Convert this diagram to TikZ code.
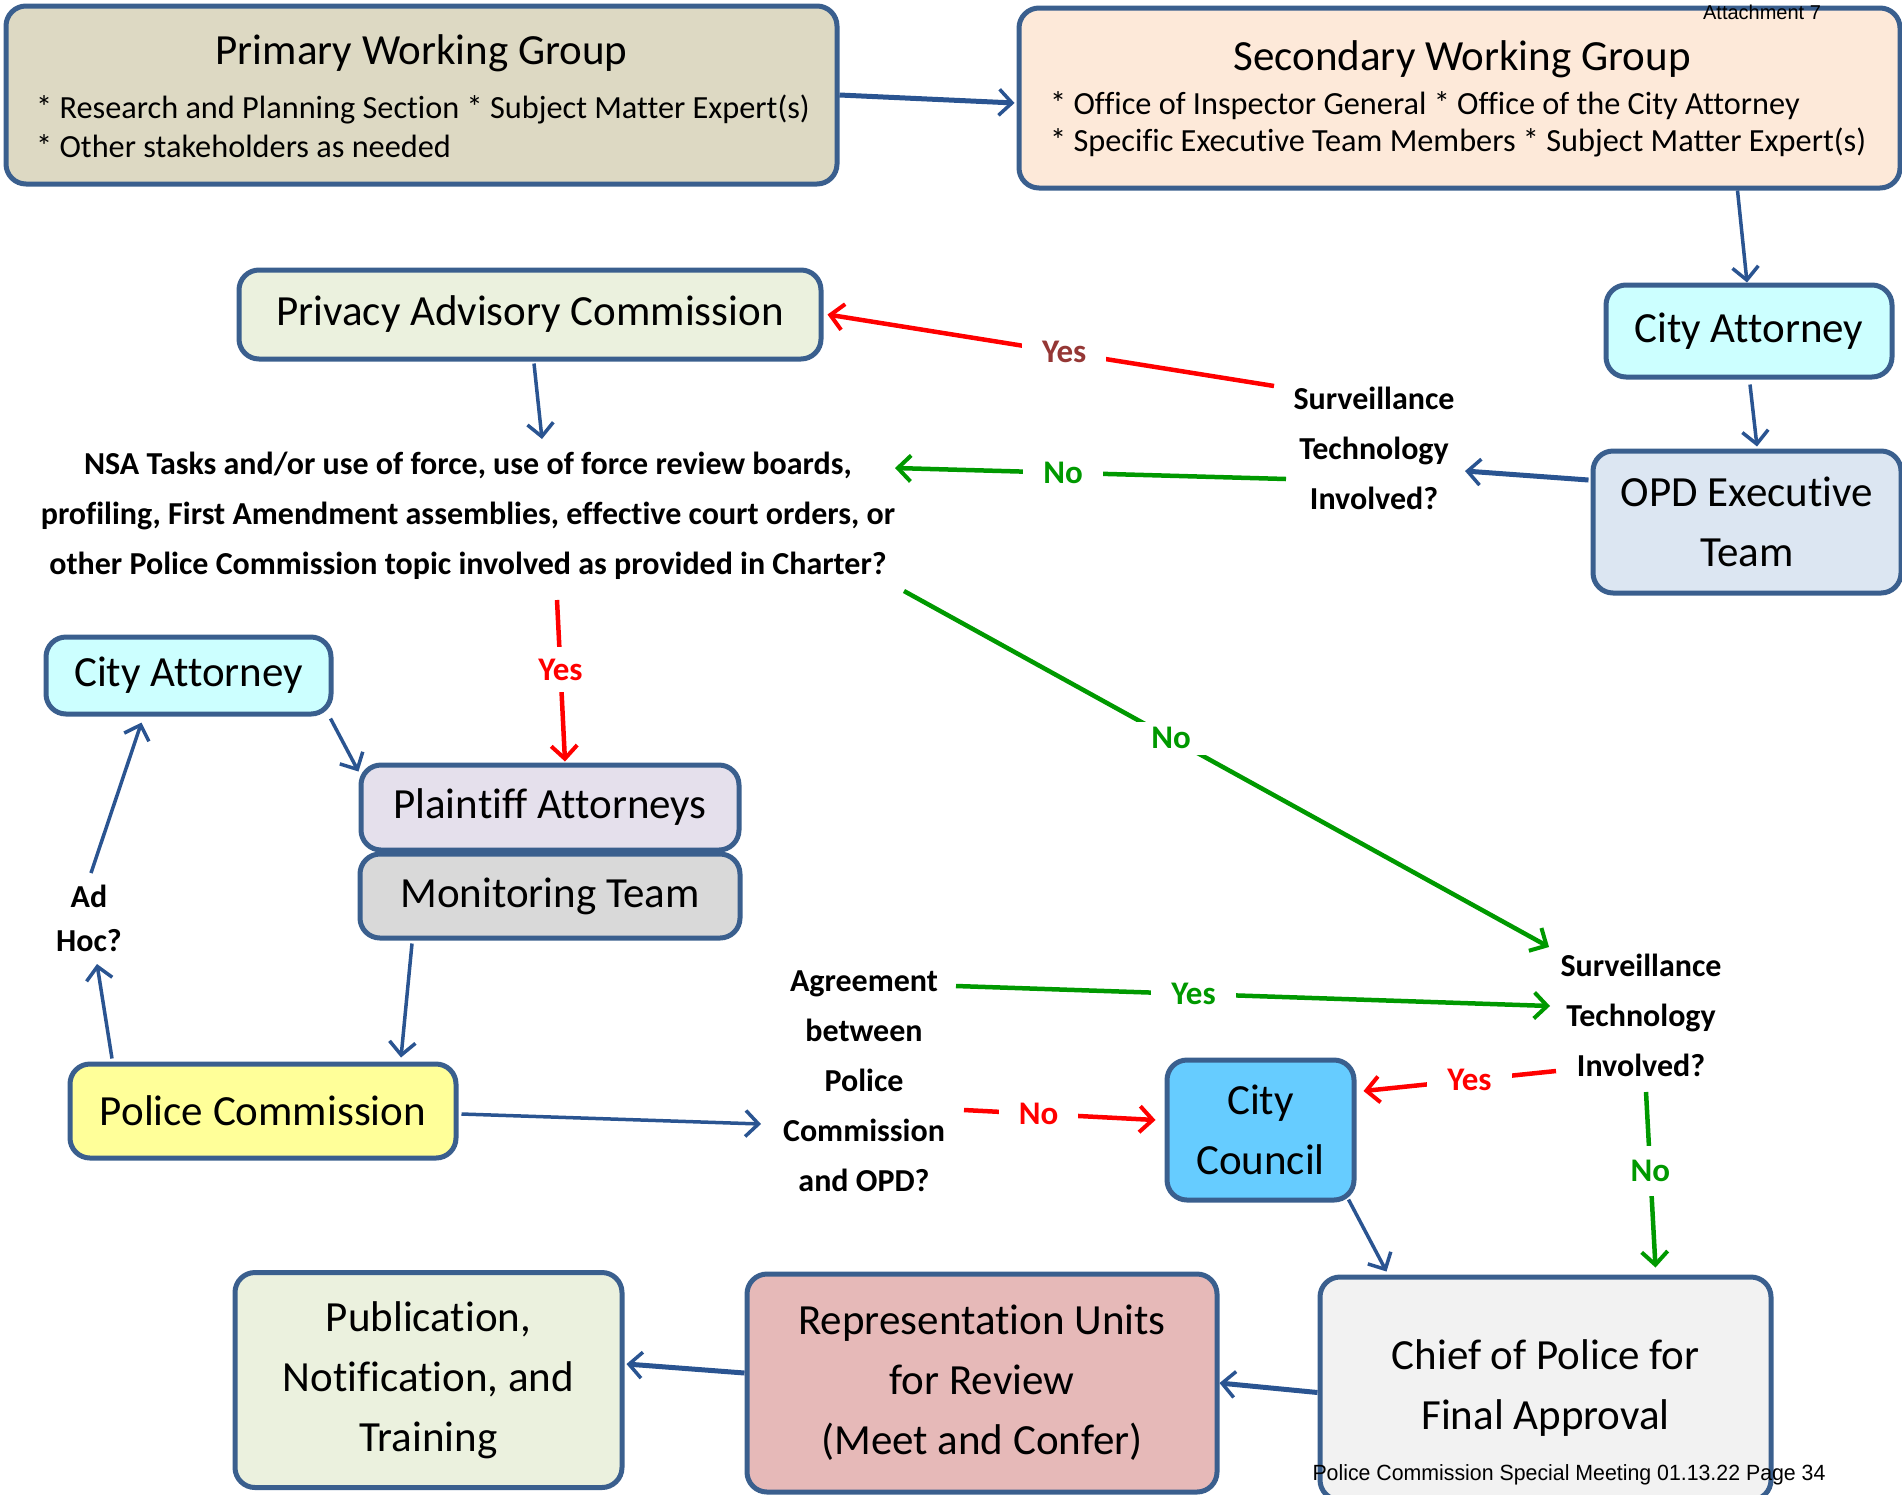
\documentclass[tikz,border=0pt]{standalone}
\usepackage{fontspec}
\setmainfont{Carlito}[Ligatures=NoCommon]
\newfontfamily\arialfont{Liberation Sans}
\usetikzlibrary{arrows.meta,calc}
\definecolor{bordc}{HTML}{3A5F8E}
\definecolor{arrc}{HTML}{2A5491}
\definecolor{redc}{HTML}{FF0000}
\definecolor{greenc}{HTML}{009900}
\definecolor{darkredc}{HTML}{953735}
\definecolor{fpwg}{HTML}{DDD9C3}
\definecolor{fswg}{HTML}{FDE9D9}
\definecolor{fca}{HTML}{CCFFFF}
\definecolor{fopd}{HTML}{DCE6F2}
\definecolor{fpac}{HTML}{EBF1DE}
\definecolor{fpla}{HTML}{E5E0EC}
\definecolor{fmon}{HTML}{D9D9D9}
\definecolor{fpc}{HTML}{FFFF99}
\definecolor{fcc}{HTML}{66CCFF}
\definecolor{fchief}{HTML}{F2F2F2}
\definecolor{frep}{HTML}{E6B9B8}
\tikzset{
  box/.style={draw=bordc, line width=5pt, rounded corners=20pt, inner sep=0pt, align=center,
    font=\fontsize{43}{60}\selectfont},
  quest/.style={font=\bfseries\fontsize{32}{50}\selectfont, align=center, inner sep=0pt},
  lbl/.style={font=\bfseries\fontsize{33}{33}\selectfont, fill=white, inner xsep=20pt, inner ysep=6pt},
  barrow/.style={draw=arrc, line width=3.5pt, -{Straight Barb[length=13pt,width=26pt,line width=3.5pt]}},
  thickb/.style={barrow, line width=5pt},
  rarrow/.style={draw=redc, line width=4.5pt, -{Straight Barb[length=13pt,width=26pt,line width=4pt]}},
  garrow/.style={draw=greenc, line width=4.5pt, -{Straight Barb[length=13pt,width=26pt,line width=4pt]}},
}
\begin{document}
\begin{tikzpicture}[x=1pt,y=-1pt]
\useasboundingbox (0,0) rectangle (1902,1494);
% boxes
\node[box, fill=fpwg, minimum width=831pt, minimum height=178pt] (pwg) at (421.5,95) {};
\node[font=\fontsize{43}{43}\selectfont, inner sep=0pt] (pwgt) at (421.5,53) {Primary Working Group};
\node[font=\fontsize{32.3}{39}\selectfont, align=left, anchor=west, inner sep=0pt] (pwgi) at (36,126.5)
  {* Research and Planning Section * Subject Matter Expert(s)\\* Other stakeholders as needed};
\node[box, fill=fswg, minimum width=881pt, minimum height=180pt] (swg) at (1459.5,98) {};
\node[font=\fontsize{43}{43}\selectfont, inner sep=0pt] (swgt) at (1462,59) {Secondary Working Group};
\node[font=\fontsize{32.3}{37}\selectfont, align=left, anchor=west, inner sep=0pt] (swgi) at (1050,124.5)
  {* Office of Inspector General * Office of the City Attorney\\* Specific Executive Team Members * Subject Matter Expert(s)};
\node[font=\arialfont\fontsize{20}{20}\selectfont, inner sep=0pt] (att) at (1762,12) {Attachment 7};

\node[box, fill=fca, minimum width=286pt, minimum height=92pt] (ca1) at (1749,331) {City Attorney};
\node[box, fill=fopd, minimum width=308pt, minimum height=142pt] (opd) at (1747,522) {OPD Executive\\Team};
\node[box, fill=fpac, minimum width=582pt, minimum height=89pt] (pac) at (530,314.5) {Privacy Advisory Commission};
\node[box, fill=fca, minimum width=285pt, minimum height=77pt] (ca2) at (188.5,675.5) {City Attorney};
\node[box, fill=fpla, minimum width=378pt, minimum height=85pt] (pla) at (550,807.5) {Plaintiff Attorneys};
\node[box, fill=fmon, minimum width=380pt, minimum height=84pt] (mon) at (550,896) {Monitoring Team};
\node[box, fill=fpc, minimum width=386pt, minimum height=94pt] (pc) at (263,1111) {Police Commission};
\node[box, fill=fcc, minimum width=187pt, minimum height=140pt] (cc) at (1260.5,1130) {City\\Council};
\node[box, fill=fchief, minimum width=451pt, minimum height=223pt] (chief) at (1545.5,1388.5) {Chief of Police for\\Final Approval};
\node[box, fill=frep, minimum width=470pt, minimum height=218pt] (rep) at (982,1383) {Representation Units\\for Review\\(Meet and Confer)};
\node[box, fill=fpac, minimum width=387pt, minimum height=215pt] (pub) at (428.5,1380) {Publication,\\Notification, and\\Training};

% questions
\node[quest] (surv1) at (1374,448) {Surveillance\\Technology\\Involved?};
\node[quest] (nsa) at (468,516) {NSA Tasks and/or use of force, use of force review boards,\\profiling, First Amendment assemblies, effective court orders, or\\other Police Commission topic involved as provided in Charter?};
\node[quest, font=\bfseries\fontsize{32}{44}\selectfont] (adhoc) at (89,918) {Ad\\Hoc?};
\node[quest] (agr) at (864,1081) {Agreement\\between\\Police\\Commission\\and OPD?};
\node[quest] (surv2) at (1641,1015) {Surveillance\\Technology\\Involved?};

% footer
\node[inner sep=0pt] (foot) at (1569,1475) {\resizebox{513pt}{\height}{\arialfont\fontsize{22}{22}\selectfont Police Commission Special Meeting 01.13.22 Page 34}};

% blue arrows
\draw[thickb] (pwg.east) -- ($(swg.west)+(-2,5)$);
\draw[barrow] ($(swg.south)+(278,0)$) -- ($(ca1.north)+(-2,0)$);
\draw[barrow] ($(ca1.south)+(1,5)$) -- ($(opd.north)+(10,-2)$);
\draw[thickb] ($(opd.west)+(-2,-42)$) -- ($(surv1.center)+(91,23)$);
\draw[barrow] ($(pac.south)+(4,2)$) -- ($(nsa.center)+(74,-77)$);
\draw[barrow] ($(ca2.south east)+(-3,2)$) -- ($(pla.north west)+(0,9)$);
\draw[barrow] ($(mon.south)+(-138,3)$) -- ($(pc.north)+(138,-4)$);
\draw[barrow] ($(pc.north)+(-151,-3)$) -- ($(adhoc.center)+(8,46)$);
\draw[barrow] ($(adhoc.center)+(2,-45)$) -- ($(ca2.south)+(-47,6)$);
\draw[barrow] ($(pc.east)+(3,3)$) -- ($(agr.center)+(-103,43)$);
\draw[barrow] ($(cc.south east)+(-8,-3)$) -- ($(chief.north west)+(69,-3)$);
\draw[thickb] ($(chief.west)+(0,4)$) -- ($(rep.east)+(0,0)$);
\draw[thickb] ($(rep.west)+(0,-10)$) -- ($(pub.east)+(2,-16)$);

% decision arrows
\draw[rarrow] ($(surv1.center)+(-100,-62)$) -- node[lbl, text=darkredc, pos=0.47] {Yes} ($(pac.east)+(4,0)$);
\draw[garrow] ($(surv1.center)+(-88,31)$) -- node[lbl, text=greenc, pos=0.57] {No} ($(nsa.center)+(427,-48)$);
\draw[rarrow] ($(nsa.center)+(89,84)$) -- node[lbl, text=redc, pos=0.43, inner xsep=4pt, inner ysep=12pt] {Yes} ($(pla.north)+(15,-1)$);
\draw[garrow] ($(nsa.center)+(436,75)$) -- node[lbl, text=greenc, pos=0.414] {No} ($(surv2.center)+(-92,-68)$);
\draw[garrow] ($(agr.center)+(92,-95)$) -- node[lbl, text=greenc, pos=0.4] {Yes} ($(surv2.center)+(-91,-9)$);
\draw[rarrow] ($(agr.center)+(100,29)$) -- node[lbl, text=redc, pos=0.39] {No} ($(cc.west)+(-9,-10)$);
\draw[rarrow] ($(surv2.center)+(-85,56)$) -- node[lbl, text=redc, pos=0.45] {Yes} ($(cc.east)+(7,-39)$);
\draw[garrow] ($(surv2.center)+(5,77)$) -- node[lbl, text=greenc, pos=0.45, inner xsep=4pt, inner ysep=14pt] {No} ($(chief.north)+(110,-7)$);
\end{tikzpicture}
\end{document}
